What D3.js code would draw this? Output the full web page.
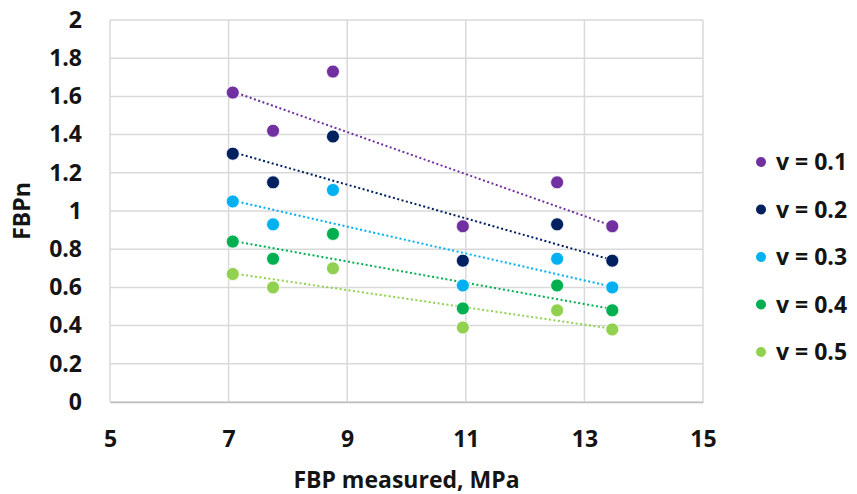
<!DOCTYPE html>
<html>
<head>
<meta charset="utf-8">
<script src="https://cdn.jsdelivr.net/npm/d3@7"></script>
<style>
  body { margin: 0; background: #fff; }
  text { font-family: "Open Sans", sans-serif; font-weight: bold; fill: #141414; }
</style>
</head>
<body>
<div id="scatter"></div>
<script>
// FBPn vs measured FBP for several Poisson ratios

// Data
var fbpMeasured = [7.07, 7.75, 8.76, 10.95, 12.54, 13.47];
var seriesNames = ["v = 0.1", "v = 0.2", "v = 0.3", "v = 0.4", "v = 0.5"];
var v01 = [1.62, 1.42, 1.73, 0.92, 1.15, 0.92];
var v02 = [1.30, 1.15, 1.39, 0.74, 0.93, 0.74];
var v03 = [1.05, 0.93, 1.11, 0.61, 0.75, 0.60];
var v04 = [0.84, 0.75, 0.88, 0.49, 0.61, 0.48];
var v05 = [0.67, 0.60, 0.70, 0.39, 0.48, 0.38];
var seriesColors = ["#7030A0", "#002060", "#00B0F0", "#00B050", "#92D050"];
var xTicks = [5, 7, 9, 11, 13, 15];
var yTicks = [0, 0.2, 0.4, 0.6, 0.8, 1, 1.2, 1.4, 1.6, 1.8, 2];

var allSeries = [v01, v02, v03, v04, v05];

var svgWidth = 857;
var svgHeight = 494;
var margin = {top: 20, right: 154, bottom: 92, left: 110};
var chartWidth = svgWidth - margin.left - margin.right;
var chartHeight = svgHeight - margin.top - margin.bottom;

var svg = d3.select("#scatter").append("svg")
    .attr("width", svgWidth)
    .attr("height", svgHeight);

var chartGroup = svg.append("g")
    .attr("transform", `translate(${margin.left}, ${margin.top})`);

var xScale = d3.scaleLinear().domain([5, 15]).range([0, chartWidth]);
var yScale = d3.scaleLinear().domain([0, 2]).range([chartHeight, 0]);

// gridlines
chartGroup.append("g")
    .selectAll("line")
    .data(xTicks)
    .enter()
    .append("line")
    .attr("x1", d => xScale(d))
    .attr("x2", d => xScale(d))
    .attr("y1", 0)
    .attr("y2", chartHeight)
    .attr("stroke", "#d9d9d9")
    .attr("stroke-width", 1.5);

chartGroup.append("g")
    .selectAll("line")
    .data(yTicks)
    .enter()
    .append("line")
    .attr("x1", 0)
    .attr("x2", chartWidth)
    .attr("y1", d => yScale(d))
    .attr("y2", d => yScale(d))
    .attr("stroke", "#d9d9d9")
    .attr("stroke-width", 1.5);

// axes (labels only, Excel style)
var xAxis = d3.axisBottom(xScale).tickValues(xTicks).tickSize(0).tickPadding(29).tickFormat(d3.format("d"));
var yAxis = d3.axisLeft(yScale).tickValues(yTicks).tickSize(0).tickPadding(28).tickFormat(d => d3.format("")(+d.toFixed(1)));

var gx = chartGroup.append("g")
    .attr("transform", `translate(0, ${chartHeight})`)
    .call(xAxis);
gx.select(".domain").attr("stroke", "#bfbfbf").attr("stroke-width", 1.5);
gx.selectAll("text").style("font-size", "23px").attr("dy", "0.71em");

var gy = chartGroup.append("g").call(yAxis);
gy.select(".domain").remove();
gy.selectAll("text").style("font-size", "23px");

// linear trendlines (least squares, like Excel)
function fitLine(xs, ys) {
    var mx = d3.mean(xs), my = d3.mean(ys);
    var sxy = d3.sum(xs, (x, i) => (x - mx) * (ys[i] - my));
    var sxx = d3.sum(xs, x => (x - mx) * (x - mx));
    var slope = sxy / sxx;
    return x => my + slope * (x - mx);
}

var xMin = d3.min(fbpMeasured), xMax = d3.max(fbpMeasured);

allSeries.forEach(function(values, i) {
    var f = fitLine(fbpMeasured, values);
    chartGroup.append("line")
        .attr("x1", xScale(xMin))
        .attr("y1", yScale(f(xMin)))
        .attr("x2", xScale(xMax))
        .attr("y2", yScale(f(xMax)))
        .attr("stroke", seriesColors[i])
        .attr("stroke-width", 2)
        .attr("stroke-dasharray", "2,2.5");
});

// markers
allSeries.forEach(function(values, i) {
    chartGroup.append("g")
        .selectAll("circle")
        .data(values)
        .enter()
        .append("circle")
        .attr("cx", (d, j) => xScale(fbpMeasured[j]))
        .attr("cy", d => yScale(d))
        .attr("r", 6.5)
        .attr("fill", seriesColors[i])
        .attr("stroke", "#fff")
        .attr("stroke-width", 0.8);
});

// axis titles
chartGroup.append("text")
    .attr("text-anchor", "middle")
    .attr("x", chartWidth / 2)
    .attr("y", chartHeight + 86)
    .style("font-size", "23px")
    .text("FBP measured, MPa");

svg.append("text")
    .attr("text-anchor", "middle")
    .attr("transform", `translate(30, ${margin.top + chartHeight / 2}) rotate(-90)`)
    .style("font-size", "23px")
    .text("FBPn");

// legend
var legend = svg.append("g")
    .attr("transform", "translate(761, 162)");

var items = legend.selectAll("g")
    .data(seriesNames)
    .enter()
    .append("g")
    .attr("transform", (d, i) => `translate(0, ${i * 47.5})`);

items.append("circle")
    .attr("r", 5)
    .attr("fill", (d, i) => seriesColors[i]);

items.append("text")
    .attr("x", 15)
    .attr("dy", "0.36em")
    .style("font-size", "23px")
    .text(d => d);
</script>
</body>
</html>
